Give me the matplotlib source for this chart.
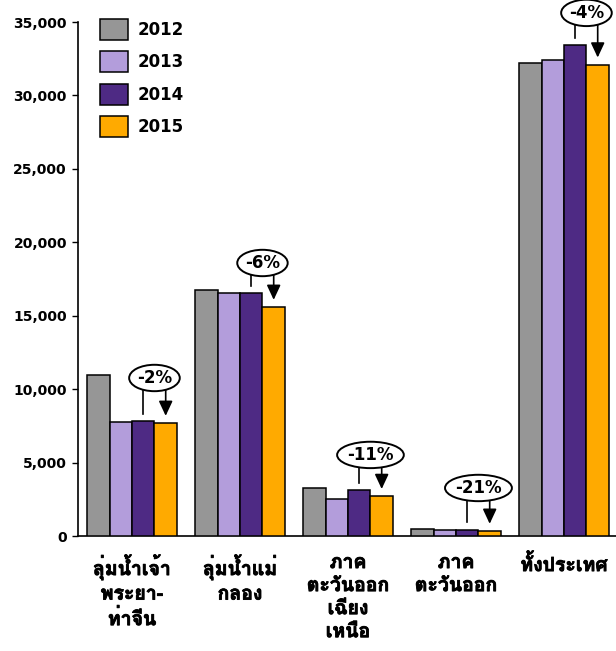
import matplotlib
matplotlib.use('Agg')
import matplotlib.pyplot as plt
import matplotlib.patheffects as pe
import numpy as np
from matplotlib import font_manager
from matplotlib.ft2font import FT2Font

# หา font ที่มีอักษรไทย (เอาตัวหนาก่อน)
thai_fonts = []
for f in font_manager.fontManager.ttflist:
    try:
        if 0x0E01 in FT2Font(f.fname).get_charmap():
            thai_fonts.append(f)
    except Exception:
        pass
bold = [f for f in thai_fonts if f.weight in ('bold', 700, 'heavy', 800, 900)]
thai_font = (bold or thai_fonts)[0].name if thai_fonts else None
families = [thai_font, 'DejaVu Sans'] if thai_font else ['DejaVu Sans']

# ข้อมูล
categories = ['ลุ่มน้ำเจ้า\nพระยา-\nท่าจีน', 'ลุ่มน้ำแม่\nกลอง', 'ภาค\nตะวันออก\nเฉียง\nเหนือ',
              'ภาค\nตะวันออก', 'ทั้งประเทศ']
years = ['2012', '2013', '2014', '2015']
v2012 = [10950, 16750, 3250, 450, 32200]
v2013 = [7750, 16550, 2520, 430, 32400]
v2014 = [7830, 16550, 3130, 440, 33450]
v2015 = [7700, 15600, 2720, 350, 32100]
changes = ['-2%', '-6%', '-11%', '-21%', '-4%']
label_y = [10760, 18590, 5520, 3270, 35620]   # ความสูงของวงรี

colors = ['#969696', '#B39DDB', '#4E2A84', '#FFAA00']
series = [v2012, v2013, v2014, v2015]

fig = plt.figure(figsize=(6.16, 6.51), dpi=100)
ax = fig.add_axes([78/616, 1-536/651, 540/616, 514/651])

x = np.arange(len(categories))
w = 0.208
for i, (vals, c, yr) in enumerate(zip(series, colors, years)):
    ax.bar(x + (i - 1.5)*w, vals, w, color=c, edgecolor='black', linewidth=1.1, label=yr, zorder=3)

ax.set_xlim(-0.5, 4.5)
ax.set_ylim(0, 35000)
ax.set_yticks(np.arange(0, 35001, 5000))
ax.set_yticklabels([f'{v:,}' for v in range(0, 35001, 5000)], fontsize=10, fontweight='bold')
ax.set_xticks(x)
ax.set_xticklabels(categories, fontsize=14, fontweight='bold', family=families, linespacing=1.36, va='top')
for t in ax.get_xticklabels():
    t.set_path_effects([pe.withStroke(linewidth=0.6, foreground='black')])   # ทำให้ตัวหนาขึ้น
ax.tick_params(axis='x', length=0, pad=13)
ax.tick_params(axis='y', length=4, width=1, pad=4)
for s in ['top', 'right']:
    ax.spines[s].set_visible(False)
ax.spines['left'].set_linewidth(1.2)
ax.spines['bottom'].set_linewidth(1.2)

# วงรี % เปลี่ยนแปลง พร้อมเส้นและลูกศร
gap = 480
half = 750
for i in range(len(categories)):
    x14 = x[i] + 0.5*w
    x15 = x[i] + 1.5*w
    cx = x[i] + w
    ax.text(cx, label_y[i], changes[i], ha='center', va='center', fontsize=12, fontweight='bold',
            bbox=dict(boxstyle='ellipse,pad=0.02', fc='white', ec='black', lw=1.4), zorder=6, clip_on=False)
    ax.plot([x14, x14], [label_y[i] - half, v2014[i] + gap], color='black', lw=1.2, zorder=5, clip_on=False)
    ax.annotate('', xy=(x15, v2015[i] + gap), xytext=(x15, label_y[i] - half),
                arrowprops=dict(arrowstyle='-|>,head_length=0.9,head_width=0.42', color='black', lw=1.2,
                                shrinkA=0, shrinkB=0), zorder=5, annotation_clip=False)

leg = ax.legend(loc='upper left', bbox_to_anchor=(100/616, 1-19/651), bbox_transform=fig.transFigure,
                frameon=False, prop={'weight': 'bold', 'size': 12}, handlelength=1.7, handleheight=1.56,
                labelspacing=0.68, handletextpad=0.55, borderpad=0, borderaxespad=0)

fig.savefig('out.png', dpi=100)
